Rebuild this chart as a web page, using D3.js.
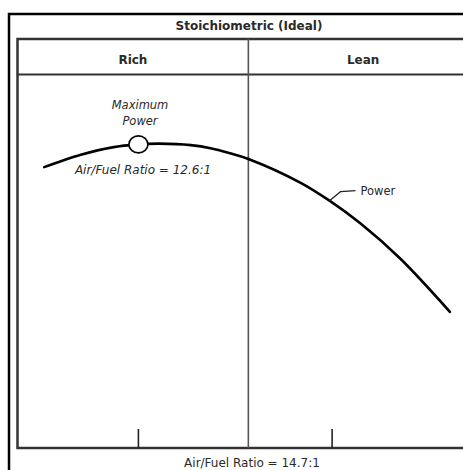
<!DOCTYPE html>
<html>
<head>
<meta charset="utf-8">
<script src="https://cdn.jsdelivr.net/npm/d3@7"></script>
<style>
  html, body { margin: 0; padding: 0; background: #fff; overflow: hidden; }
  svg { display: block; font-family: "DejaVu Sans", "Liberation Sans", Arial, sans-serif; }
</style>
</head>
<body>
<svg id="chart" width="463" height="470"></svg>
<script>
// Data
const afr   = [10.8, 11.5, 12.1, 12.6, 13.0, 13.6, 14.0, 14.35, 14.7, 15.7, 16.25, 16.85, 17.6, 18.55];
const power = [75.3, 78.6, 80.6, 81.4, 81.6, 81.2, 80.3, 79.0, 77.5, 71.1, 66.3, 60.1, 50.8, 36.5];
const tickValues = [12.6, 16.3];
const stoich = 14.7;
const maxPowerAfr = 12.6;
const regionLabels = ["Rich", "Lean"];
const titleText = "Stoichiometric (Ideal)";
const axisLabel = "Air/Fuel Ratio = 14.7:1";
const maxLabelLines = ["Maximum", "Power"];
const maxAfrLabel = "Air/Fuel Ratio = 12.6:1";
const seriesLabel = "Power";

const svg = d3.select("#chart");
const box = {left: 17.5, top: 39, right: 478, bottom: 448, header: 74.5};

const x = d3.scaleLinear().domain([10.3, 18.8]).range([18, 463]);
const y = d3.scaleLinear().domain([0, 100]).range([box.bottom, 75]);

// Outer frame
svg.append("rect").attr("x", 9).attr("y", 14).attr("width", 500).attr("height", 500)
  .attr("fill", "none").attr("stroke", "#000").attr("stroke-width", 2.5);

// Title
svg.append("text").attr("x", 249).attr("y", 30).attr("text-anchor", "middle")
  .attr("font-size", 12).attr("font-weight", "bold").attr("fill", "#2a2a2a").text(titleText);

// Inner box
svg.append("rect").attr("x", box.left).attr("y", box.top)
  .attr("width", box.right - box.left).attr("height", box.bottom - box.top)
  .attr("fill", "none").attr("stroke", "#333").attr("stroke-width", 2.5);
svg.append("line").attr("x1", box.left).attr("x2", box.right)
  .attr("y1", box.header).attr("y2", box.header)
  .attr("stroke", "#333").attr("stroke-width", 2);
svg.append("line").attr("x1", x(stoich)).attr("x2", x(stoich))
  .attr("y1", box.top).attr("y2", box.bottom)
  .attr("stroke", "#555").attr("stroke-width", 1.6);

// Region labels
const cellCenters = [(box.left + x(stoich)) / 2, (x(stoich) + box.right) / 2];
svg.selectAll("text.region").data(regionLabels).enter().append("text")
  .attr("class", "region")
  .attr("x", (d, i) => cellCenters[i]).attr("y", 64)
  .attr("text-anchor", "middle").attr("font-size", 12).attr("font-weight", "bold")
  .attr("fill", "#2a2a2a").text(d => d);

// Ticks
svg.selectAll("line.tick").data(tickValues).enter().append("line")
  .attr("class", "tick")
  .attr("x1", d => x(d)).attr("x2", d => x(d))
  .attr("y1", box.bottom).attr("y2", box.bottom - 19)
  .attr("stroke", "#222").attr("stroke-width", 1.6);

// Axis label
svg.append("text").attr("x", 252).attr("y", 467).attr("text-anchor", "middle")
  .attr("font-size", 12).attr("fill", "#2a2a2a").text(axisLabel);

// Curve
const pts = afr.map((a, i) => [a, power[i]]);
const line = d3.line().x(d => x(d[0])).y(d => y(d[1])).curve(d3.curveCatmullRom.alpha(0.5));
svg.append("path").attr("d", line(pts)).attr("fill", "none")
  .attr("stroke", "#000").attr("stroke-width", 2.6).attr("stroke-linecap", "round");

// Max power marker
const iMax = afr.indexOf(maxPowerAfr);
svg.append("ellipse").attr("cx", x(maxPowerAfr)).attr("cy", y(power[iMax]))
  .attr("rx", 9.5).attr("ry", 8.5)
  .attr("fill", "#fff").attr("stroke", "#000").attr("stroke-width", 1.6);

// Annotations
svg.selectAll("text.maxlbl").data(maxLabelLines).enter().append("text")
  .attr("class", "maxlbl")
  .attr("x", 140).attr("y", (d, i) => 109 + i * 16)
  .attr("text-anchor", "middle").attr("font-size", 11.5).attr("font-style", "italic")
  .attr("fill", "#2a2a2a").text(d => d);
svg.append("text").attr("x", 143).attr("y", 174).attr("text-anchor", "middle")
  .attr("font-size", 12).attr("font-style", "italic").attr("fill", "#2a2a2a").text(maxAfrLabel);

// Power leader
const lx = x(16.25), ly = y(66.3);
svg.append("path")
  .attr("d", `M${lx},${ly} L${lx + 11},${ly - 9} L${lx + 26},${ly - 10}`)
  .attr("fill", "none").attr("stroke", "#222").attr("stroke-width", 1.2);
svg.append("text").attr("x", lx + 31).attr("y", ly - 6)
  .attr("font-size", 11.5).attr("fill", "#2a2a2a").text(seriesLabel);
</script>
</body>
</html>
